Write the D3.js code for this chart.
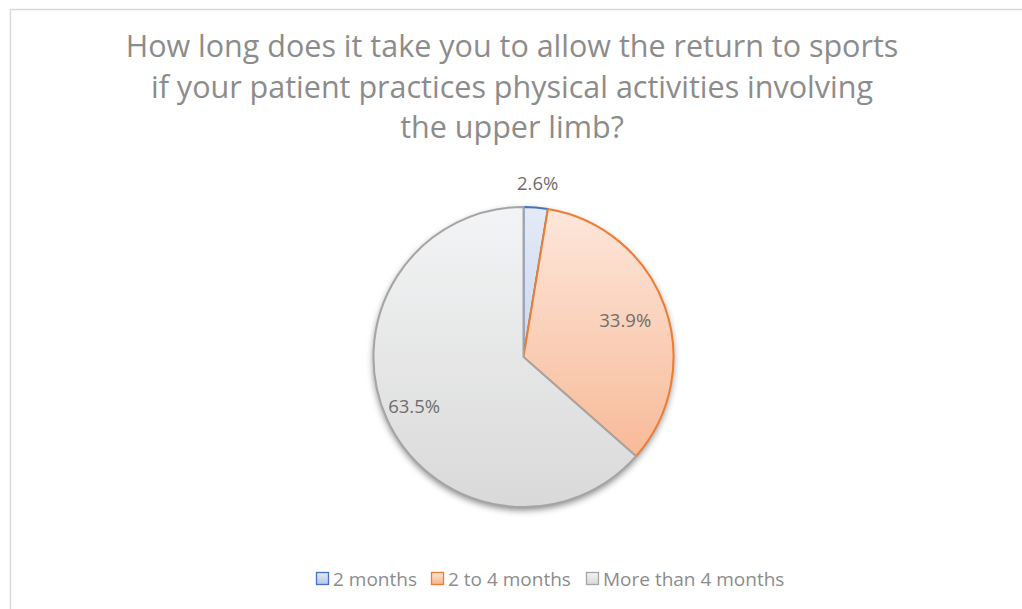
<!DOCTYPE html>
<html>
<head>
<meta charset="utf-8">
<script src="https://cdn.jsdelivr.net/npm/d3@7"></script>
<style>
  html, body { margin: 0; padding: 0; background: #fff; }
  svg { display: block; }
</style>
</head>
<body>
<svg id="chart" width="1022" height="609"></svg>
<script>
const titleLines = [
  'How long does it take you to allow the return to sports',
  'if your patient practices physical activities involving',
  'the upper limb?',
];
const categories = ['2 months', '2 to 4 months', 'More than 4 months'];
const values = [2.6, 33.9, 63.5];
const fillTop = ['#e4eaf6', '#fde7db', '#f3f4f5'];
const fillBottom = ['#b4c6e7', '#f6b18b', '#d9d9d9'];
const strokes = ['#4472c4', '#ed7d31', '#a5a5a5'];
// label radius as a fraction of the pie radius (first one sits outside)
const labelRadius = [1.16, 0.72, 0.8];

const svg = d3.select('#chart');
const width = 1022;
const cx = 523.5;
const cy = 357;
const radius = 150;
const font = '"Open Sans", Lato, sans-serif';

// chart frame
svg.append('rect')
  .attr('x', 10.5).attr('y', 9.5)
  .attr('width', 1030).attr('height', 620)
  .attr('fill', '#fff')
  .attr('stroke', '#d9d9d9')
  .attr('stroke-width', 1.5);

const defs = svg.append('defs');
categories.forEach((c, i) => {
  const g = defs.append('linearGradient')
    .attr('id', `grad${i}`)
    .attr('gradientUnits', 'userSpaceOnUse')
    .attr('x1', 0).attr('y1', -radius)
    .attr('x2', 0).attr('y2', radius);
  g.append('stop').attr('offset', '0%').attr('stop-color', fillTop[i]);
  g.append('stop').attr('offset', '100%').attr('stop-color', fillBottom[i]);

  const lg = defs.append('linearGradient')
    .attr('id', `lg${i}`)
    .attr('x1', 0).attr('y1', 0).attr('x2', 0).attr('y2', 1);
  lg.append('stop').attr('offset', '0%').attr('stop-color', fillTop[i]);
  lg.append('stop').attr('offset', '100%').attr('stop-color', fillBottom[i]);
});

const shadow = defs.append('filter').attr('id', 'shadow')
  .attr('x', '-20%').attr('y', '-20%').attr('width', '140%').attr('height', '140%');
shadow.append('feGaussianBlur').attr('in', 'SourceAlpha').attr('stdDeviation', 3.5);
shadow.append('feOffset').attr('dx', 0).attr('dy', 3).attr('result', 'blur');
shadow.append('feComponentTransfer').append('feFuncA').attr('type', 'linear').attr('slope', 0.5);
const merge = shadow.append('feMerge');
merge.append('feMergeNode');
merge.append('feMergeNode').attr('in', 'SourceGraphic');

// title
svg.append('text')
  .attr('font-family', font)
  .attr('font-size', 30.5)
  .attr('fill', '#8c8c8c')
  .attr('text-anchor', 'middle')
  .selectAll('tspan')
  .data(titleLines)
  .join('tspan')
  .attr('x', 512)
  .attr('y', (d, i) => 57 + i * 40.5)
  .text((d) => d);

const pie = d3.pie().sort(null).value((d) => d)(values);
const arc = d3.arc().innerRadius(0).outerRadius(radius);

const pieG = svg.append('g').attr('transform', `translate(${cx},${cy})`);

pieG.append('circle')
  .attr('r', radius)
  .attr('fill', '#ddd')
  .attr('filter', 'url(#shadow)');

pieG.selectAll('path.slice')
  .data(pie)
  .join('path')
  .attr('class', 'slice')
  .attr('d', arc)
  .attr('fill', (d, i) => `url(#grad${i})`)
  .attr('stroke', (d, i) => strokes[i])
  .attr('stroke-width', 2)
  .attr('stroke-linejoin', 'round');

pieG.selectAll('text.label')
  .data(pie)
  .join('text')
  .attr('class', 'label')
  .attr('transform', (d, i) => {
    const r = radius * labelRadius[i];
    const [x, y] = d3.arc().innerRadius(r).outerRadius(r).centroid(d);
    return `translate(${x},${y})`;
  })
  .attr('dy', '0.35em')
  .attr('text-anchor', 'middle')
  .attr('font-family', font)
  .attr('font-size', 18.5)
  .attr('fill', '#6e6e6e')
  .text((d) => `${d.data.toFixed(1)}%`);

// legend
const legendX = [316, 431, 586];
const legend = svg.append('g').attr('transform', 'translate(0,579)');
const item = legend.selectAll('g')
  .data(categories)
  .join('g')
  .attr('transform', (d, i) => `translate(${legendX[i]},0)`);
item.append('rect')
  .attr('x', 0.5).attr('y', -6.5)
  .attr('width', 12).attr('height', 12)
  .attr('fill', (d, i) => `url(#lg${i})`)
  .attr('stroke', (d, i) => strokes[i])
  .attr('stroke-width', 1.3);
item.append('text')
  .attr('x', 17)
  .attr('dy', '0.35em')
  .attr('font-family', font)
  .attr('font-size', 19)
  .attr('fill', '#8c8c8c')
  .text((d) => d);
</script>
</body>
</html>
